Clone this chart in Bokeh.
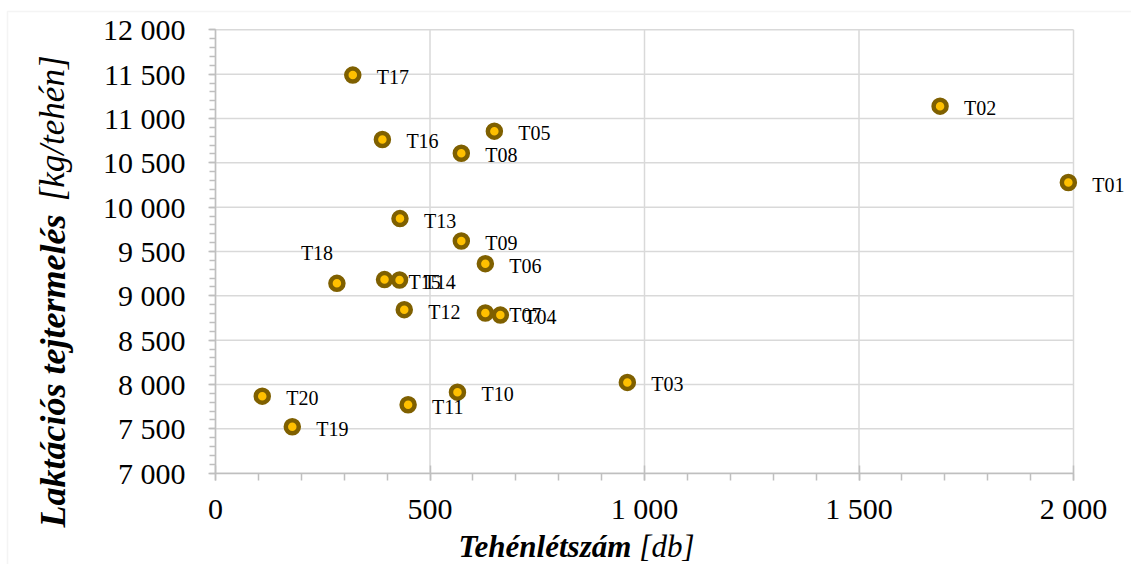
from bokeh.plotting import figure
from bokeh.models import ColumnDataSource, FixedTicker, Range1d, Label, BoxAnnotation
from bokeh.core.properties import value
from bokeh.embed import file_html
from bokeh.resources import INLINE

# ---- data ----
farms = ["T01", "T02", "T03", "T04", "T05", "T06", "T07", "T08", "T09", "T10",
         "T11", "T12", "T13", "T14", "T15", "T16", "T17", "T18", "T19", "T20"]
herd_size = [1988, 1689, 960, 664, 650, 629, 629, 573, 573, 564,
             449, 440, 430, 429, 394, 389, 320, 283, 179, 109]
milk_yield = [10278, 11139, 8024, 8783, 10857, 9363, 8806, 10608, 9619, 7914,
              7772, 8844, 9871, 9178, 9183, 10763, 11489, 9141, 7524, 7869]

x_ticks = [0, 500, 1000, 1500, 2000]
x_tick_labels = ["0", "500", "1 000", "1 500", "2 000"]
y_ticks = [7000, 7500, 8000, 8500, 9000, 9500, 10000, 10500, 11000, 11500, 12000]
y_tick_labels = ["7 000", "7 500", "8 000", "8 500", "9 000", "9 500",
                 "10 000", "10 500", "11 000", "11 500", "12 000"]
x_title_bold, x_title_rest = "Tehénlétszám", "[db]"
y_title_bold, y_title_rest = "Laktációs tejtermelés", "[kg/tehén]"

FONT = "Liberation Serif"
GRID = "#D9D9D9"
AXIS = "#BFBFBF"

# ---- layout geometry (pixels) ----
W, H = 1131, 564
XMIN, XMAX, YMIN, YMAX = 0, 2000, 7000, 12000
PX_XMIN, PX_XMAX = 215.0, 1073.0      # screen x of XMIN / XMAX
PX_YMAX, PX_YMIN = 29.3, 472.7        # screen y (from top) of YMAX / YMIN
sx = (PX_XMAX - PX_XMIN) / (XMAX - XMIN)
sy = (PX_YMIN - PX_YMAX) / (YMAX - YMIN)


def dx(px):
    return XMIN + (px - PX_XMIN) / sx


def dy(py):
    return YMIN + (PX_YMIN - py) / sy


# the frame covers the whole canvas; axes are pinned with fixed_location
p = figure(width=W, height=H, output_backend="svg", toolbar_location=None,
           x_range=Range1d(dx(0), dx(W)), y_range=Range1d(dy(H), dy(0)),
           min_border=0)
p.outline_line_color = None
p.background_fill_color = "white"
p.border_fill_color = "white"
p.xgrid.visible = False
p.ygrid.visible = False

# outer chart border (left/top edges visible)
p.add_layout(BoxAnnotation(left=dx(7), right=dx(W + 50), top=dy(11), bottom=dy(H + 50),
                           fill_color=None, line_color=GRID, line_width=1.5, level="underlay"))

# grid lines
p.segment(x0=x_ticks, x1=x_ticks, y0=[YMIN] * len(x_ticks), y1=[YMAX] * len(x_ticks),
          line_color=GRID, line_width=1.5)
p.segment(x0=[XMIN] * len(y_ticks), x1=[XMAX] * len(y_ticks), y0=y_ticks, y1=y_ticks,
          line_color=GRID, line_width=1.5)

# axes
p.xaxis.fixed_location = YMIN
p.yaxis.fixed_location = XMIN
p.xaxis.bounds = (XMIN, XMAX)
p.yaxis.bounds = (YMIN, YMAX)
p.xaxis.ticker = FixedTicker(ticks=x_ticks, minor_ticks=list(range(XMIN, XMAX + 1, 100)))
p.yaxis.ticker = FixedTicker(ticks=y_ticks, minor_ticks=list(range(YMIN, YMAX + 1, 100)))
p.xaxis.major_label_overrides = dict(zip(x_ticks, x_tick_labels))
p.yaxis.major_label_overrides = dict(zip(y_ticks, y_tick_labels))
for ax in (p.xaxis, p.yaxis):
    ax.axis_line_color = AXIS
    ax.axis_line_width = 1.5
    ax.major_tick_line_color = AXIS
    ax.minor_tick_line_color = AXIS
    ax.major_tick_line_width = 1.5
    ax.minor_tick_line_width = 1.5
    ax.major_label_text_font = FONT
    ax.major_label_text_font_size = "30px"
    ax.major_label_text_color = "black"
p.xaxis.major_tick_in = 8
p.xaxis.major_tick_out = 7
p.xaxis.minor_tick_in = 0
p.xaxis.minor_tick_out = 7
p.xaxis.major_label_standoff = 12
p.yaxis.major_tick_in = 0
p.yaxis.major_tick_out = 7
p.yaxis.minor_tick_in = 0
p.yaxis.minor_tick_out = 6
p.yaxis.major_label_standoff = 23

# points
src = ColumnDataSource(dict(x=herd_size, y=milk_yield, name=farms))
p.scatter("x", "y", source=src, size=13, fill_color="#FFC000",
          line_color="#7F6000", line_width=4.5)

# data labels
normal = [i for i, n in enumerate(farms) if n != "T18"]
special = [i for i, n in enumerate(farms) if n == "T18"]
lab_src = ColumnDataSource(dict(x=[herd_size[i] for i in normal],
                                y=[milk_yield[i] for i in normal],
                                name=[farms[i] for i in normal]))
p.text("x", "y", text="name", source=lab_src, x_offset=24, y_offset=2,
       text_align="left", text_baseline="middle", text_font=value(FONT),
       text_font_size="20px", text_color="black")
lab18 = ColumnDataSource(dict(x=[herd_size[i] for i in special],
                              y=[milk_yield[i] for i in special],
                              name=[farms[i] for i in special]))
p.text("x", "y", text="name", source=lab18, x_offset=-36, y_offset=-30,
       text_align="left", text_baseline="middle", text_font=value(FONT),
       text_font_size="20px", text_color="black")

# axis titles (mixed styles)
p.add_layout(Label(x=dx(458), y=dy(546), text=x_title_bold, text_font=FONT,
                   text_font_size="31px", text_font_style="bold italic",
                   text_align="left", text_baseline="middle", text_color="black"))
p.add_layout(Label(x=dx(694), y=dy(546), text=x_title_rest, text_font=FONT,
                   text_font_size="31px", text_font_style="italic",
                   text_align="right", text_baseline="middle", text_color="black"))
p.add_layout(Label(x=dx(52), y=dy(527), text=y_title_bold, text_font=FONT,
                   text_font_size="36px", text_font_style="bold italic",
                   text_align="left", angle=1.5707963,
                   text_baseline="middle", text_color="black"))
p.add_layout(Label(x=dx(52), y=dy(55), text=y_title_rest, text_font=FONT,
                   text_font_size="35px", text_font_style="italic",
                   text_align="right", angle=1.5707963,
                   text_baseline="middle", text_color="black"))

open("out.html", "w").write(file_html(p, INLINE))
